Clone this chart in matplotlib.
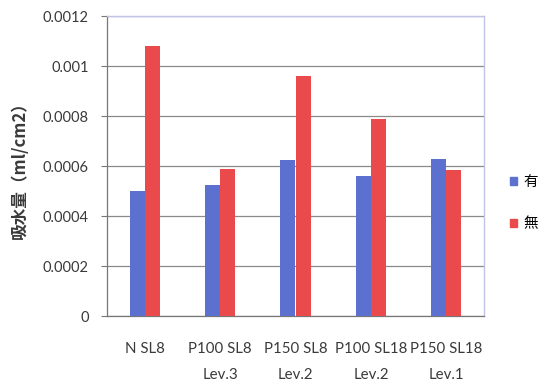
import matplotlib
matplotlib.use("Agg")
import matplotlib.pyplot as plt
import numpy as np
from matplotlib.patches import Patch

plt.rcParams['font.family'] = ['Lato', 'Noto Sans CJK JP', 'DejaVu Sans']

categories = ["N SL8", "P100 SL8\nLev.3", "P150 SL8\nLev.2", "P100 SL18\nLev.2", "P150 SL18\nLev.1"]
series_names = ["有", "無"]
with_values = [0.00050, 0.000524, 0.000623, 0.00056, 0.00063]
without_values = [0.00108, 0.00059, 0.00096, 0.000787, 0.000583]
y_ticks = [0, 0.0002, 0.0004, 0.0006, 0.0008, 0.001, 0.0012]
y_tick_labels = ["0", "0.0002", "0.0004", "0.0006", "0.0008", "0.001", "0.0012"]

blue = "#5b70cf"
red = "#ea4a4c"
text_color = "#3a3a3a"

fig = plt.figure(figsize=(5.44, 3.91), dpi=100)
ax = fig.add_axes([107 / 544, 1 - 316 / 391, (484 - 107) / 544, (316 - 16) / 391])

x = np.arange(len(categories))
w = 0.2
ax.bar(x - w / 2, with_values, width=w, color=blue, label=series_names[0], zorder=3)
ax.bar(x + w / 2, without_values, width=w, color=red, label=series_names[1], zorder=3)

ax.set_xlim(-0.5, len(categories) - 0.5)
ax.set_ylim(0, 0.0012)
ax.set_yticks(y_ticks)
ax.set_yticklabels(y_tick_labels, fontsize=10.5, color=text_color)
ax.set_xticks(x)
ax.set_xticklabels(categories, fontsize=10.8, color=text_color, linespacing=2.1)
ax.tick_params(axis="x", length=0, pad=19)
ax.tick_params(axis="y", length=4, width=0.8, color="#777777", pad=9)

ax.grid(axis="y", color="#8a8a8a", linewidth=0.9, zorder=0)
for side in ["top", "right"]:
    ax.spines[side].set_color("#c0c4e6")
    ax.spines[side].set_linewidth(1.0)
for side in ["left", "bottom"]:
    ax.spines[side].set_color("#777777")
    ax.spines[side].set_linewidth(0.9)

ax.set_ylabel("吸水量（ml/cm2）", fontsize=12, fontweight="bold", color=text_color,
              family=['Noto Sans CJK JP', 'DejaVu Sans'], labelpad=10)

handles = [Patch(color=blue), Patch(color=red)]
fig.legend(handles, series_names, loc="center left", bbox_to_anchor=(510 / 544, 1 - 203 / 391),
           frameon=False, borderpad=0, borderaxespad=0, handlelength=0.5, handleheight=0.5,
           handletextpad=0.45, labelspacing=1.9, prop={'family': 'Noto Sans CJK JP', 'size': 10.5})

fig.savefig("out.png", dpi=100, facecolor="white")
